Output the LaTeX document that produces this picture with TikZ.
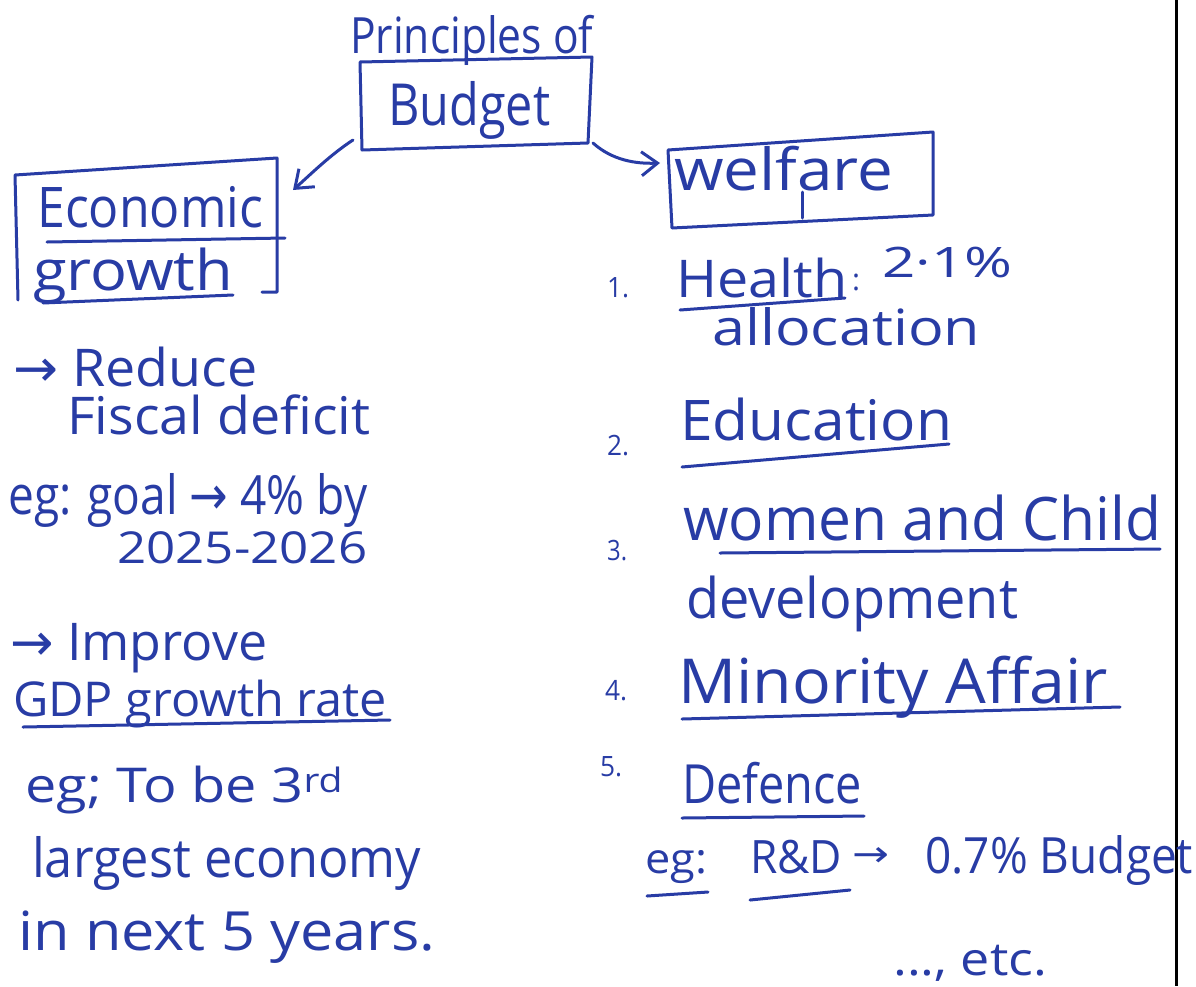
\documentclass[tikz,border=0pt]{standalone}
\usepackage{fontspec}
\usepackage{graphicx}
\usetikzlibrary{arrows.meta}
\newfontfamily\hand{Open Sans}
\newfontfamily\symf{DejaVu Sans}
\definecolor{ink}{RGB}{40,60,165}
% text set at a given size (pt) and stretched to a given width (pt)
\newcommand{\hw}[3]{\resizebox{#1pt}{\height}{\fontsize{#2pt}{#2pt}\hand #3}}
\newcommand{\ar}{{\symf →}}
\tikzset{
  txt/.style={anchor=base west, inner sep=0pt, text=ink},
  pen/.style={draw=ink, line width=3pt, line cap=round, line join=round},
  arr/.style={pen, -{Straight Barb[length=16pt,width=24pt,line width=3pt]}}
}
\begin{document}
\begin{tikzpicture}[x=1pt,y=-1pt]
\useasboundingbox (0,0) rectangle (1196,986);
\fill[white] (0,0) rectangle (1196,986);
% page edge
\draw[black, line width=3pt] (1176,0) -- (1176,986);

% ---- title box ----
\node[txt] (prin) at (350,53) {\hw{243}{50}{Principles of}};
\node[txt] (budget) at (388,125) {\hw{162}{58}{Budget}};
\coordinate (bTL) at (360,62); \coordinate (bTR) at (592,57);
\coordinate (bBR) at (588,143); \coordinate (bBL) at (362,150);
\draw[pen] (bTL) -- (bTR) -- (bBR) -- (bBL) -- cycle;

% ---- economic growth box ----
\node[txt] (econ) at (37,227) {\hw{226}{56}{Economic}};
\node[txt] (growth) at (33,290) {\hw{200}{56}{growth}};
\coordinate (eTL) at (15,175); \coordinate (eTR) at (277,158);
\draw[pen] (18,300) -- (eTL) -- (eTR) -- (277,292) -- (262,292);
\draw[pen] (47,242) -- (285,238);
\draw[pen] (43,303) -- (233,295);

% ---- welfare box ----
\node[txt] (welfare) at (674,190) {\hw{219}{58}{welfare}};
\coordinate (wTL) at (668,150); \coordinate (wTR) at (933,132);
\coordinate (wBR) at (933,215); \coordinate (wBL) at (672,228);
\draw[pen] (wTL) -- (wTR) -- (wBR) -- (wBL) -- cycle;
\draw[pen] (802,192) -- (802,218);

% ---- connectors ----
\coordinate (aLs) at (353,140); \coordinate (aLe) at (293,190);
\coordinate (aRs) at (593,143); \coordinate (aRe) at (660,163);
\draw[arr] (aLs) .. controls (330,155) and (310,175) .. (aLe);
\draw[arr] (aRs) .. controls (612,160) and (635,164) .. (aRe);

% ---- left column ----
\node[txt] (l1) at (13,386) {\hw{244}{52}{\ar\ Reduce}};
\node[txt] (l2) at (67,434) {\hw{303}{52}{Fiscal deficit}};
\node[txt] (l3) at (8,514) {\hw{359}{54}{eg: goal \ar\ 4\% by}};
\node[txt] (l4) at (117,563) {\hw{250}{44}{2025-2026}};
\node[txt] (l5) at (10,660) {\hw{257}{52}{\ar\ Improve}};
\node[txt] (l6) at (13,716) {\hw{374}{48}{GDP growth rate}};
\draw[pen] (23,727) -- (390,720);
\node[txt] (l7) at (25,802) {\hw{318}{48}{eg; To be 3\textsuperscript{rd}}};
\node[txt] (l8) at (32,877) {\hw{389}{54}{largest economy}};
\node[txt] (l9) at (18,950) {\hw{417}{54}{in next 5 years.}};

% ---- right column ----
\node[txt] (n1) at (607,297) {\hw{22}{28}{1.}};
\node[txt] (health) at (676,297) {\hw{171}{52}{Health}};
\node[txt] (colon) at (852,290) {\hw{8}{30}{:}};
\node[txt] (pct) at (882,277) {\hw{130}{42}{2·1\%}};
\draw[pen] (680,310) -- (845,298);
\node[txt] (alloc) at (712,345) {\hw{268}{50}{allocation}};

\node[txt] (n2) at (607,455) {\hw{22}{28}{2.}};
\node[txt] (edu) at (680,440) {\hw{272}{56}{Education}};
\draw[pen] (682,467) -- (949,444);

\node[txt] (n3) at (607,560) {\hw{20}{28}{3.}};
\node[txt] (women) at (683,540) {\hw{478}{60}{women and Child}};
\draw[pen] (720,553) -- (1160,549);
\node[txt] (devel) at (686,618) {\hw{332}{56}{development}};

\node[txt] (n4) at (605,700) {\hw{22}{28}{4.}};
\node[txt] (minor) at (678,703) {\hw{430}{62}{Minority Affair}};
\draw[pen] (682,719) -- (1120,707);

\node[txt] (n5) at (600,776) {\hw{22}{28}{5.}};
\node[txt] (def) at (682,803) {\hw{180}{54}{Defence}};
\draw[pen] (682,818) -- (864,816);

\node[txt] (eg) at (645,873) {\hw{62}{42}{eg:}};
\draw[pen] (647,896) -- (708,892);
\node[txt] (rd) at (750,873) {\hw{92}{46}{R\&D}};
\draw[pen] (750,900) -- (850,890);
\node[txt] (rdar) at (852,866) {\hw{37}{36}{\ar}};
\node[txt] (share) at (925,873) {\hw{268}{50}{0.7\% Budget}};
\node[txt] (etc) at (893,975) {\hw{154}{46}{..., etc.}};
\end{tikzpicture}
\end{document}
